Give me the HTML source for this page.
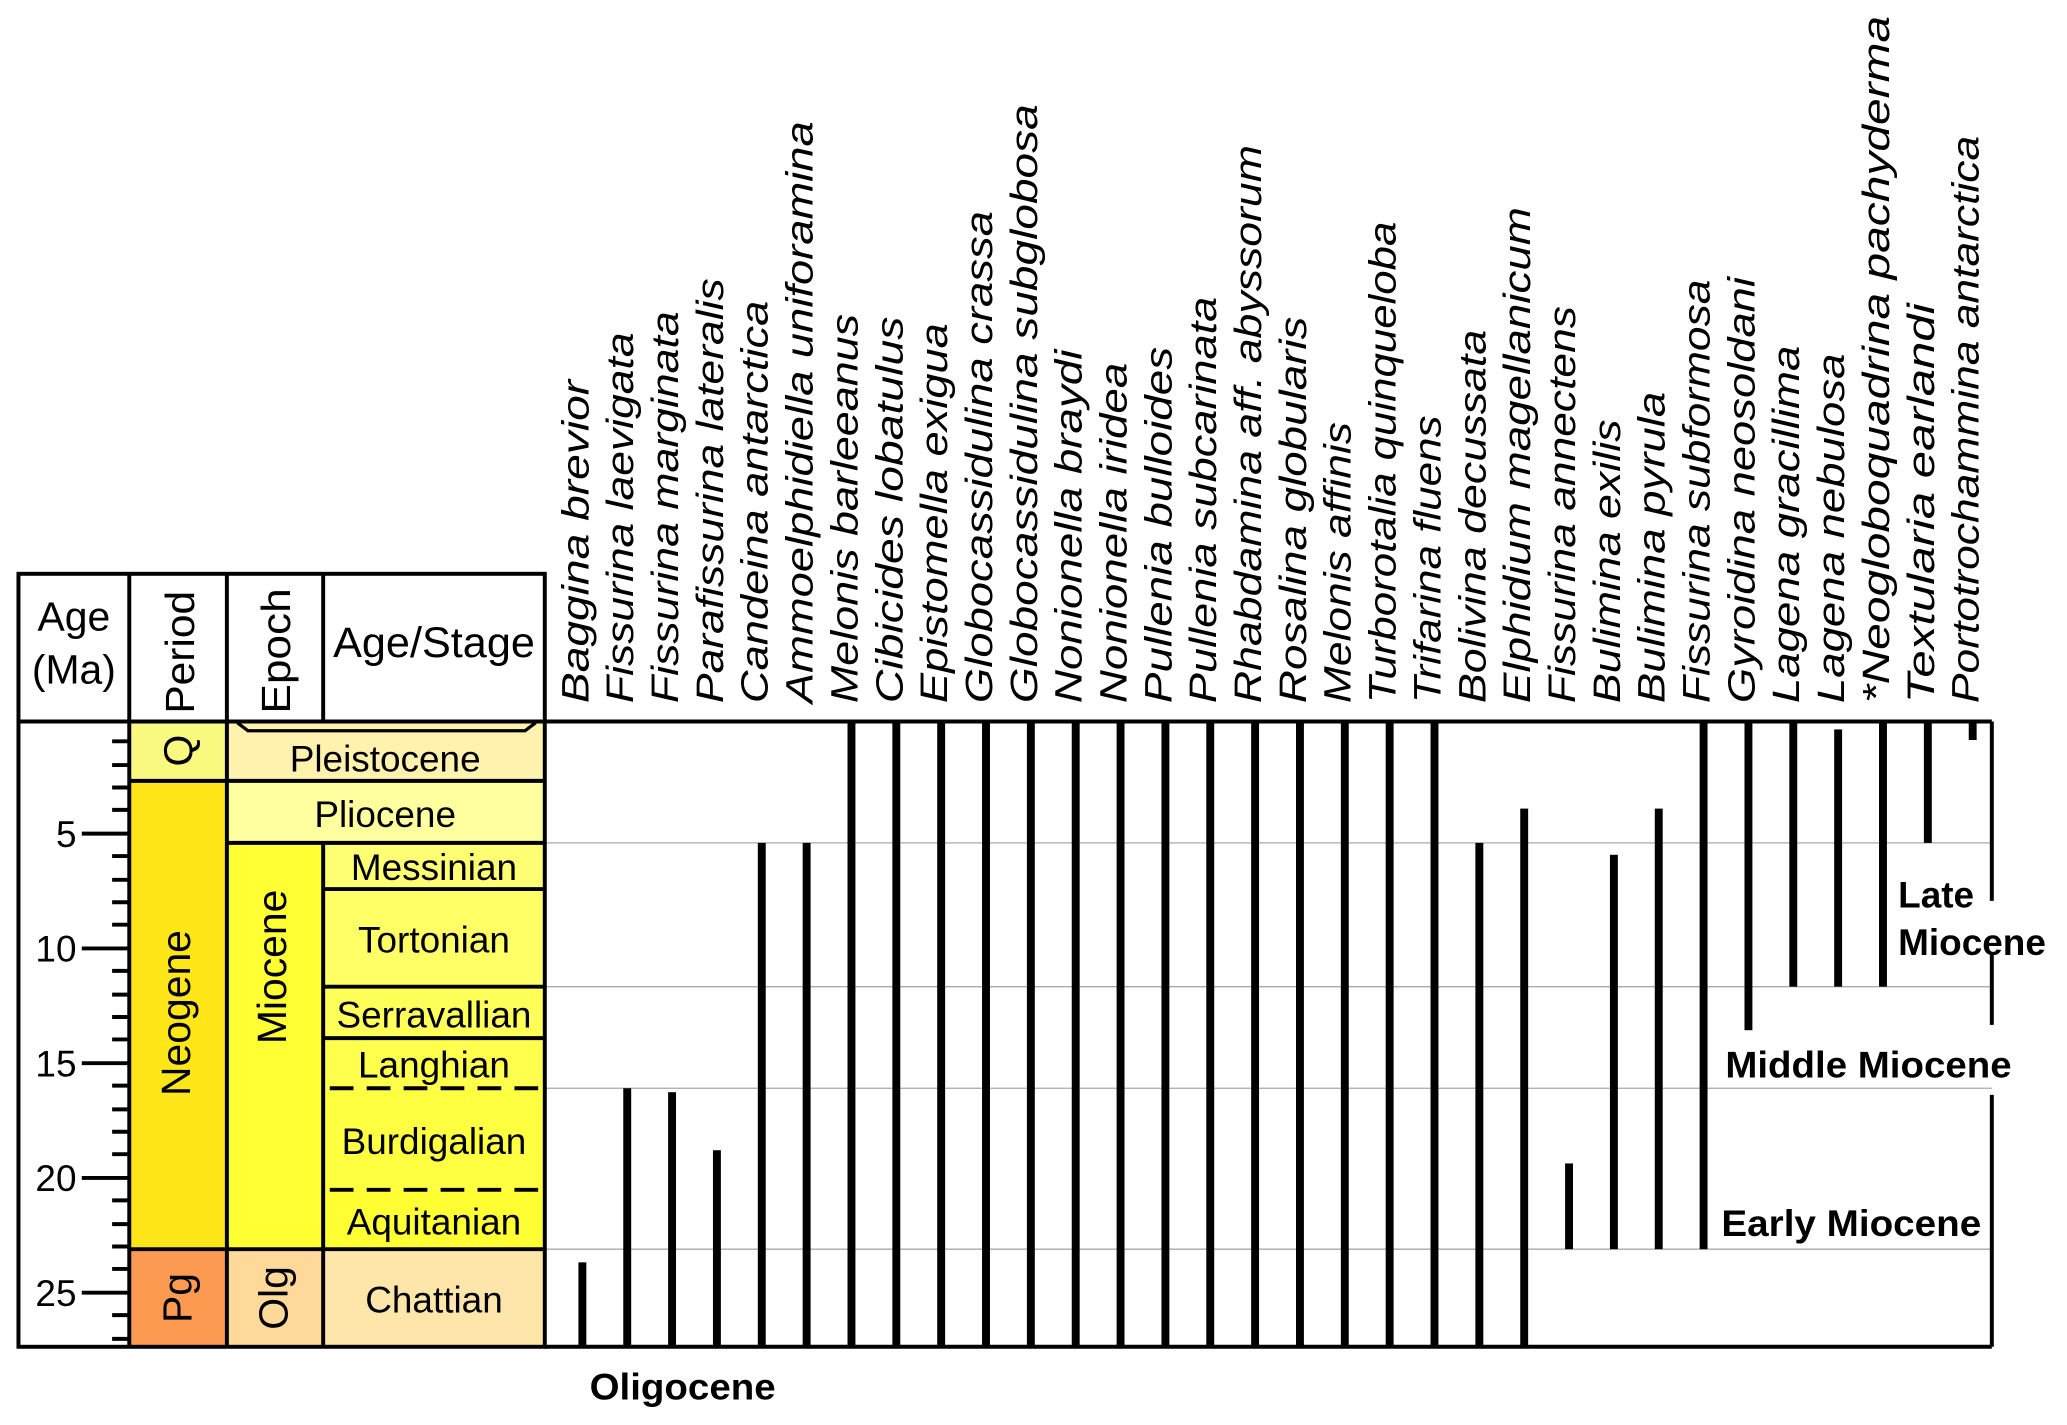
<!DOCTYPE html>
<html><head><meta charset="utf-8"><style>html,body{margin:0;padding:0;background:#fff}svg{display:block}</style></head><body>
<svg width="2067" height="1425" viewBox="0 0 1567 1080.3" xmlns="http://www.w3.org/2000/svg" font-family="Liberation Sans, sans-serif">
<rect width="1567" height="1081" fill="#fff"/>
<rect x="98" y="547" width="74" height="45" fill="#f9f97f"/>
<rect x="98" y="592" width="74" height="355" fill="#ffe619"/>
<rect x="98" y="947" width="74" height="74" fill="#fd9a52"/>
<rect x="172" y="547" width="241" height="45" fill="#fff2ae"/>
<rect x="172" y="592" width="241" height="47" fill="#ffffa0"/>
<rect x="172" y="639" width="73" height="308" fill="#ffff33"/>
<rect x="245" y="639" width="168" height="35" fill="#ffff73"/>
<rect x="245" y="674" width="168" height="74" fill="#ffff66"/>
<rect x="245" y="748" width="168" height="39" fill="#ffff59"/>
<rect x="245" y="787" width="168" height="38" fill="#ffff4d"/>
<rect x="245" y="825" width="168" height="77" fill="#ffff41"/>
<rect x="245" y="902" width="168" height="45" fill="#ffff33"/>
<rect x="172" y="947" width="73" height="74" fill="#fed99a"/>
<rect x="245" y="947" width="168" height="74" fill="#fee6aa"/>
<g stroke="#aaa" stroke-width="1">
<line x1="413" y1="639" x2="1510" y2="639"/><line x1="413" y1="748" x2="1510" y2="748"/>
<line x1="413" y1="825" x2="1510" y2="825"/><line x1="413" y1="947" x2="1510" y2="947"/>
</g>
<g stroke="#000" stroke-width="3" fill="none">
<rect x="14" y="435" width="399" height="586"/>
<line x1="14" y1="547" x2="1510" y2="547"/>
<line x1="413" y1="1021" x2="1510" y2="1021"/>
<line x1="98" y1="435" x2="98" y2="1021"/><line x1="172" y1="435" x2="172" y2="1021"/>
<line x1="245" y1="435" x2="245" y2="547"/><line x1="245" y1="639" x2="245" y2="1021"/>
<line x1="98" y1="592" x2="413" y2="592"/><line x1="98" y1="947" x2="413" y2="947"/>
<line x1="172" y1="639" x2="413" y2="639"/>
<line x1="245" y1="674" x2="413" y2="674"/><line x1="245" y1="748" x2="413" y2="748"/><line x1="245" y1="787" x2="413" y2="787"/>
<line x1="250" y1="825" x2="408" y2="825" stroke-dasharray="18,10"/>
<line x1="250" y1="902" x2="408" y2="902" stroke-dasharray="18,10"/>
<polyline points="180,548 188,554 398,554 406,548" stroke-width="2.5"/>
<line x1="1510" y1="547" x2="1510" y2="683"/><line x1="1510" y1="724" x2="1510" y2="777"/><line x1="1510" y1="830" x2="1510" y2="1021"/>
</g>
<g stroke="#000" stroke-width="3">
<line x1="85" y1="562" x2="98" y2="562"/><line x1="85" y1="580" x2="98" y2="580"/><line x1="85" y1="597" x2="98" y2="597"/><line x1="85" y1="614" x2="98" y2="614"/><line x1="62" y1="632" x2="98" y2="632"/>
<line x1="85" y1="649" x2="98" y2="649"/><line x1="85" y1="667" x2="98" y2="667"/><line x1="85" y1="684" x2="98" y2="684"/><line x1="85" y1="701" x2="98" y2="701"/><line x1="62" y1="719" x2="98" y2="719"/>
<line x1="85" y1="736" x2="98" y2="736"/><line x1="85" y1="754" x2="98" y2="754"/><line x1="85" y1="771" x2="98" y2="771"/><line x1="85" y1="788" x2="98" y2="788"/><line x1="62" y1="806" x2="98" y2="806"/>
<line x1="85" y1="823" x2="98" y2="823"/><line x1="85" y1="841" x2="98" y2="841"/><line x1="85" y1="858" x2="98" y2="858"/><line x1="85" y1="875" x2="98" y2="875"/><line x1="62" y1="893" x2="98" y2="893"/>
<line x1="85" y1="910" x2="98" y2="910"/><line x1="85" y1="928" x2="98" y2="928"/><line x1="85" y1="945" x2="98" y2="945"/><line x1="85" y1="962" x2="98" y2="962"/><line x1="62" y1="980" x2="98" y2="980"/>
<line x1="85" y1="997" x2="98" y2="997"/><line x1="85" y1="1015" x2="98" y2="1015"/>
</g>
<g font-size="28" text-anchor="end" fill="#000">
<text x="58" y="642">5</text><text x="58" y="729">10</text><text x="58" y="816">15</text><text x="58" y="903">20</text><text x="58" y="990">25</text>
</g>
<g font-size="31" fill="#000" text-anchor="middle">
<text x="56" y="478">Age</text><text x="56" y="518">(Ma)</text>
<text x="329" y="498" font-size="32" textLength="153" lengthAdjust="spacingAndGlyphs">Age/Stage</text>
<text transform="translate(147,541) rotate(-90)" text-anchor="start" textLength="93" lengthAdjust="spacingAndGlyphs">Period</text>
<text transform="translate(220,541) rotate(-90)" text-anchor="start" textLength="95" lengthAdjust="spacingAndGlyphs">Epoch</text>
</g>
<g font-size="28" fill="#000" text-anchor="middle">
<text x="292" y="585">Pleistocene</text>
<text x="292" y="627">Pliocene</text>
<text x="329" y="667">Messinian</text>
<text x="329" y="722">Tortonian</text>
<text x="329" y="779">Serravallian</text>
<text x="329" y="817">Langhian</text>
<text x="329" y="875">Burdigalian</text>
<text x="329" y="936">Aquitanian</text>
<text x="329" y="995">Chattian</text>
<text transform="translate(146,569) rotate(-90)" font-size="31">Q</text>
<text transform="translate(144,768) rotate(-90)" font-size="31">Neogene</text>
<text transform="translate(217,733) rotate(-90)" font-size="31">Miocene</text>
<text transform="translate(145,984) rotate(-90)" font-size="31">Pg</text>
<text transform="translate(218,984) rotate(-90)" font-size="31">Olg</text>
</g>
<g fill="#000">
<rect x="438.5" y="957" width="6" height="64"/>
<rect x="472.5" y="825" width="6" height="196"/>
<rect x="506.5" y="828" width="6" height="193"/>
<rect x="540.5" y="872" width="6" height="149"/>
<rect x="574.5" y="639" width="6" height="382"/>
<rect x="608.5" y="639" width="6" height="382"/>
<rect x="642.5" y="547" width="6" height="474"/>
<rect x="676.5" y="547" width="6" height="474"/>
<rect x="710.5" y="547" width="6" height="474"/>
<rect x="744.5" y="547" width="6" height="474"/>
<rect x="778.5" y="547" width="6" height="474"/>
<rect x="812.5" y="547" width="6" height="474"/>
<rect x="846.5" y="547" width="6" height="474"/>
<rect x="880.5" y="547" width="6" height="474"/>
<rect x="914.5" y="547" width="6" height="474"/>
<rect x="948.5" y="547" width="6" height="474"/>
<rect x="982.5" y="547" width="6" height="474"/>
<rect x="1016.5" y="547" width="6" height="474"/>
<rect x="1050.5" y="547" width="6" height="474"/>
<rect x="1084.5" y="547" width="6" height="474"/>
<rect x="1118.5" y="639" width="6" height="382"/>
<rect x="1152.5" y="613" width="6" height="408"/>
<rect x="1186.5" y="882" width="6" height="65"/>
<rect x="1220.5" y="648" width="6" height="299"/>
<rect x="1254.5" y="613" width="6" height="334"/>
<rect x="1288.5" y="547" width="6" height="400"/>
<rect x="1322.5" y="547" width="6" height="234"/>
<rect x="1356.5" y="547" width="6" height="201"/>
<rect x="1390.5" y="553" width="6" height="195"/>
<rect x="1424.5" y="547" width="6" height="201"/>
<rect x="1458.5" y="547" width="6" height="92"/>
<rect x="1492.5" y="547" width="6" height="14"/>
</g>
<g font-size="29" font-style="italic" fill="#000">
<text transform="translate(446,533) rotate(-90)" textLength="245" lengthAdjust="spacingAndGlyphs">Baggina brevior</text>
<text transform="translate(480,533) rotate(-90)" textLength="281" lengthAdjust="spacingAndGlyphs">Fissurina laevigata</text>
<text transform="translate(514,533) rotate(-90)" textLength="297" lengthAdjust="spacingAndGlyphs">Fissurina marginata</text>
<text transform="translate(548,533) rotate(-90)" textLength="322" lengthAdjust="spacingAndGlyphs">Parafissurina lateralis</text>
<text transform="translate(582,533) rotate(-90)" textLength="305" lengthAdjust="spacingAndGlyphs">Candeina antarctica</text>
<text transform="translate(616,533) rotate(-90)" textLength="441" lengthAdjust="spacingAndGlyphs">Ammoelphidiella uniforamina</text>
<text transform="translate(650,533) rotate(-90)" textLength="295" lengthAdjust="spacingAndGlyphs">Melonis barleeanus</text>
<text transform="translate(684,533) rotate(-90)" textLength="293" lengthAdjust="spacingAndGlyphs">Cibicides lobatulus</text>
<text transform="translate(718,533) rotate(-90)" textLength="288" lengthAdjust="spacingAndGlyphs">Epistomella exigua</text>
<text transform="translate(752,533) rotate(-90)" textLength="373" lengthAdjust="spacingAndGlyphs">Globocassidulina crassa</text>
<text transform="translate(786,533) rotate(-90)" textLength="454" lengthAdjust="spacingAndGlyphs">Globocassidulina subglobosa</text>
<text transform="translate(820,533) rotate(-90)" textLength="268" lengthAdjust="spacingAndGlyphs">Nonionella braydi</text>
<text transform="translate(854,533) rotate(-90)" textLength="258" lengthAdjust="spacingAndGlyphs">Nonionella iridea</text>
<text transform="translate(888,533) rotate(-90)" textLength="270" lengthAdjust="spacingAndGlyphs">Pullenia bulloides</text>
<text transform="translate(922,533) rotate(-90)" textLength="308" lengthAdjust="spacingAndGlyphs">Pullenia subcarinata</text>
<text transform="translate(956,533) rotate(-90)" textLength="423" lengthAdjust="spacingAndGlyphs">Rhabdamina aff. abyssorum</text>
<text transform="translate(990,533) rotate(-90)" textLength="293" lengthAdjust="spacingAndGlyphs">Rosalina globularis</text>
<text transform="translate(1024,533) rotate(-90)" textLength="213" lengthAdjust="spacingAndGlyphs">Melonis affinis</text>
<text transform="translate(1058,533) rotate(-90)" textLength="365" lengthAdjust="spacingAndGlyphs">Turborotalia quinqueloba</text>
<text transform="translate(1092,533) rotate(-90)" textLength="218" lengthAdjust="spacingAndGlyphs">Trifarina fluens</text>
<text transform="translate(1126,533) rotate(-90)" textLength="283" lengthAdjust="spacingAndGlyphs">Bolivina decussata</text>
<text transform="translate(1160,533) rotate(-90)" textLength="376" lengthAdjust="spacingAndGlyphs">Elphidium magellanicum</text>
<text transform="translate(1194,533) rotate(-90)" textLength="301" lengthAdjust="spacingAndGlyphs">Fissurina annectens</text>
<text transform="translate(1228,533) rotate(-90)" textLength="215" lengthAdjust="spacingAndGlyphs">Bulimina exilis</text>
<text transform="translate(1262,533) rotate(-90)" textLength="236" lengthAdjust="spacingAndGlyphs">Bulimina pyrula</text>
<text transform="translate(1296,533) rotate(-90)" textLength="321" lengthAdjust="spacingAndGlyphs">Fissurina subformosa</text>
<text transform="translate(1330,533) rotate(-90)" textLength="323" lengthAdjust="spacingAndGlyphs">Gyroidina neosoldani</text>
<text transform="translate(1364,533) rotate(-90)" textLength="271" lengthAdjust="spacingAndGlyphs">Lagena gracillima</text>
<text transform="translate(1398,533) rotate(-90)" textLength="265" lengthAdjust="spacingAndGlyphs">Lagena nebulosa</text>
<text transform="translate(1432,533) rotate(-90)" textLength="521" lengthAdjust="spacingAndGlyphs">*Neogloboquadrina pachyderma</text>
<text transform="translate(1466,533) rotate(-90)" textLength="303" lengthAdjust="spacingAndGlyphs">Textularia earlandi</text>
<text transform="translate(1500,533) rotate(-90)" textLength="430" lengthAdjust="spacingAndGlyphs">Portotrochammina antarctica</text>
</g>
<g font-size="28" font-weight="bold" fill="#000">
<text x="1439" y="688">Late</text>
<text x="1439" y="724">Miocene</text>
<text x="1308" y="817" textLength="217" lengthAdjust="spacingAndGlyphs">Middle Miocene</text>
<text x="1305" y="937" textLength="197" lengthAdjust="spacingAndGlyphs">Early Miocene</text>
<text x="447" y="1061" textLength="141" lengthAdjust="spacingAndGlyphs">Oligocene</text>
</g>
</svg>
</body></html>
